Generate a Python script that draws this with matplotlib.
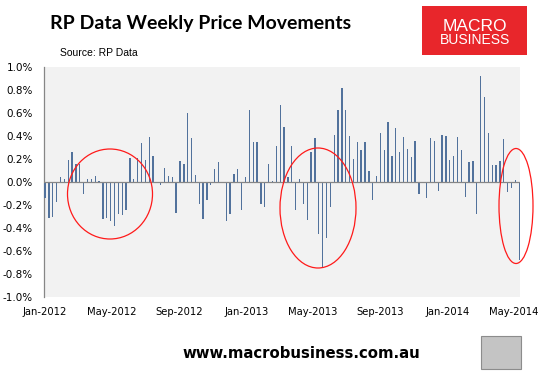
import numpy as np
import pandas as pd
import matplotlib
matplotlib.use('Agg')
import matplotlib.pyplot as plt
from matplotlib.patches import Ellipse, Rectangle

# weekly % change in dwelling values
changes = [
    -0.14, -0.31, -0.30, -0.17, 0.04, 0.03, 0.19, 0.26, 0.16, 0.16,
    -0.10, 0.03, 0.03, 0.05, 0.01, -0.32, -0.31, -0.34, -0.38, -0.28,
    -0.29, -0.24, 0.21, 0.03, 0.21, 0.34, 0.19, 0.39, 0.23, 0.00,
    -0.03, 0.12, 0.05, 0.04, -0.27, 0.18, 0.16, 0.60, 0.38, 0.06,
    -0.19, -0.32, -0.16, -0.03, 0.11, 0.17, 0.00, -0.34, -0.28, 0.07,
    0.11, -0.24, 0.04, 0.63, 0.35, 0.35, -0.19, -0.22, 0.16, 0.01,
    0.31, 0.67, 0.48, 0.04, 0.31, -0.24, 0.03, -0.19, -0.33, 0.26,
    0.38, -0.45, -0.74, -0.49, -0.22, 0.41, 0.63, 0.82, 0.63, 0.40,
    0.20, 0.35, 0.28, 0.35, 0.10, -0.16, 0.05, 0.43, 0.28, 0.52,
    0.23, 0.47, 0.26, 0.39, 0.29, 0.22, 0.36, -0.10, 0.00, -0.14,
    0.38, 0.36, -0.08, 0.41, 0.40, 0.19, 0.23, 0.39, 0.28, -0.13,
    0.17, 0.18, -0.28, 0.92, 0.74, 0.43, 0.15, 0.15, 0.18, 0.37,
    -0.09, -0.05, 0.02, -0.68]
start_date = '2012-01-01'
xtick_dates = ['2012-01-01', '2012-05-01', '2012-09-01', '2013-01-01',
               '2013-05-01', '2013-09-01', '2014-01-01', '2014-05-01']
xtick_labels = ['Jan-2012', 'May-2012', 'Sep-2012', 'Jan-2013',
                'May-2013', 'Sep-2013', 'Jan-2014', 'May-2014']
ytick_vals = [-1.0, -0.8, -0.6, -0.4, -0.2, 0.0, 0.2, 0.4, 0.6, 0.8, 1.0]
ytick_labels = ['-1.0%', '-0.8%', '-0.6%', '-0.4%', '-0.2%', '0.0%',
                '0.2%', '0.4%', '0.6%', '0.8%', '1.0%']

W, H = 541, 371
fig = plt.figure(figsize=(W / 100, H / 100), dpi=100)
fig.patch.set_facecolor('white')

def fx(px):
    return px / W

def fy(py):
    return 1 - py / H

ax = fig.add_axes([fx(44), fy(297), (520 - 44) / W, (297 - 67) / H])
ax.set_facecolor('#f2f2f2')

weeks = pd.date_range(start_date, periods=len(changes), freq='7D')
ax.bar(weeks, changes, width=2.4, color='#52729c', linewidth=0,
       antialiased=False, zorder=3)
ax.axhline(0, color='#868686', lw=0.9, zorder=4)

ax.set_ylim(-1.0, 1.0)
ax.set_yticks(ytick_vals)
ax.set_yticklabels(ytick_labels, fontsize=7.5, family='DejaVu Sans')
ax.set_xticks(pd.to_datetime(xtick_dates))
ax.set_xticklabels(xtick_labels, fontsize=7.2, family='DejaVu Sans')
ax.set_xlim(weeks[0] - pd.Timedelta(days=2), weeks[-1] + pd.Timedelta(days=1.5))
ax.tick_params(axis='y', length=0, pad=8)
ax.tick_params(axis='x', length=0, pad=7)
for s in ['top', 'right', 'bottom']:
    ax.spines[s].set_visible(False)
ax.spines['left'].set_color('#868686')
ax.spines['left'].set_linewidth(0.9)

# red rings drawn by hand on the original
for cx, cy, w, h in [(110, 194, 85, 90), (318, 208, 76, 120), (516, 206, 34, 115)]:
    e = Ellipse((fx(cx), fy(cy)), w / W, h / H, transform=fig.transFigure,
                fill=False, edgecolor='#ff1a1a', lw=0.9, zorder=10)
    fig.patches.append(e)

# title and source
fig.text(fx(50), fy(28.5), 'RP Data Weekly Price Movements', fontsize=14,
         fontweight='bold', family='Lato', va='baseline', ha='left')
fig.text(fx(60), fy(56.5), 'Source: RP Data', fontsize=7.5,
         family='Liberation Sans', va='baseline', ha='left')

# logo box
logo = Rectangle((fx(422), fy(55)), 105 / W, 49 / H, transform=fig.transFigure,
                 facecolor='#e8262b', edgecolor='none')
fig.patches.append(logo)
fig.text(fx(475), fy(31), 'MACRO', fontsize=12.5, color='white',
         family='Liberation Sans', ha='center', va='baseline')
fig.text(fx(475), fy(44), 'BUSINESS', fontsize=10, color='white',
         family='Liberation Sans', ha='center', va='baseline')

# footer
fig.text(fx(301), fy(353), 'www.macrobusiness.com.au', fontsize=10.7,
         fontweight='bold', family='DejaVu Sans', ha='center', va='center')
fox = Rectangle((fx(481), fy(369)), 40 / W, 33 / H, transform=fig.transFigure,
                facecolor='#c4c4c4', edgecolor='#8c8c8c', lw=0.8)
fig.patches.append(fox)

fig.savefig('out.png', dpi=100)
